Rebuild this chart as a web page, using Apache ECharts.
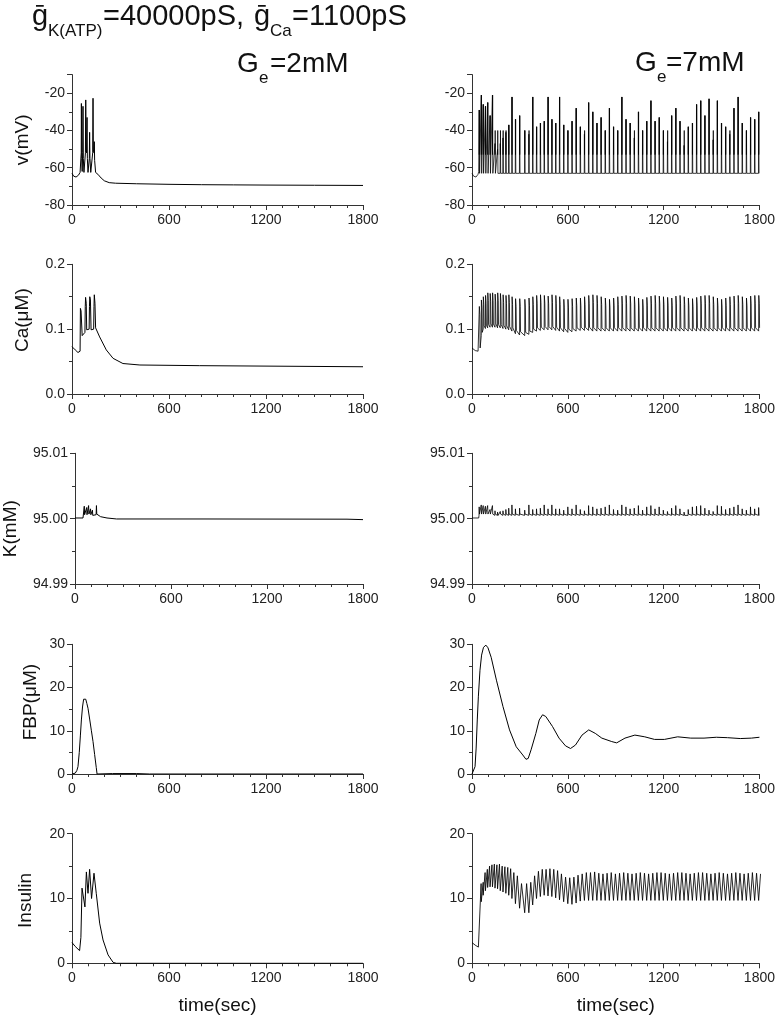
<!DOCTYPE html>
<html><head><meta charset="utf-8">
<script src="https://cdn.jsdelivr.net/npm/echarts@6.0.0/dist/echarts.min.js"></script>
<style>html,body{margin:0;padding:0;background:#fff}#c{width:778px;height:1019px}</style>
</head><body><div id="c"></div>
<script>
// ---------- data ----------
const timeTicks = [0, 600, 1200, 1800];

// G_e = 2 mM (explicit [t, value] points)
const v2 = [[0,-63],[10,-64.5],[25,-65],[40,-64],[50,-62.5],[55,-61.5],[57,-52],[58,-25.5],[60,-55],[63,-62],[66,-52],[68,-27],[70,-55],[74,-62.5],[83,-52],[85,-23.6],[87,-50],[90,-52],[93,-33],[95,-55],[99,-62.5],[107,-55],[109,-41],[111,-55],[116,-62.5],[128,-52],[130,-22.7],[132,-50],[136,-52],[138,-46],[140,-56],[146,-62.5],[160,-63.5],[180,-65.5],[200,-67],[230,-68],[270,-68.3],[400,-68.6],[600,-68.9],[800,-69.1],[1000,-69.2],[1200,-69.3],[1500,-69.4],[1800,-69.5]];
const ca2 = [[0,0.073],[20,0.068],[37,0.064],[50,0.066],[52,0.132],[56,0.128],[60,0.125],[63,0.09],[66,0.088],[80,0.095],[82,0.135],[84,0.149],[88,0.14],[91,0.099],[96,0.1],[106,0.1],[108,0.135],[110,0.15],[114,0.145],[118,0.099],[126,0.1],[134,0.1],[136,0.135],[138,0.153],[142,0.14],[146,0.102],[171,0.088],[212,0.068],[254,0.055],[315,0.047],[420,0.0447],[790,0.0437],[1800,0.042]];
const k2 = [[0,95.0001],[50,95.0001],[56,95.0004],[58,95.0019],[60,95.0006],[64,95.0004],[71,95.0006],[73,95.0017],[75,95.0006],[83,95.0006],[85,95.002],[87,95.0007],[95,95.0006],[97,95.0015],[99,95.0006],[107,95.0005],[109,95.0013],[111,95.0005],[132,95.0006],[134,95.002],[136,95.0007],[160,95.0003],[200,95.0001],[260,94.99995],[800,94.99995],[1700,94.99992],[1800,94.99985]];
const fbp2 = [[0,0],[20,0.2],[30,0.8],[37,1.7],[45,5],[52,9],[58,12.5],[65,15.5],[72,17.3],[78,17.7],[85,17.3],[92,16.3],[99,15.2],[110,12.5],[120,10],[130,7.5],[140,4.5],[150,1.5],[155,0],[250,0.1],[400,0.1],[480,0],[1800,0]];
const ins2 = [[0,3.2],[20,2.6],[47,1.95],[55,4],[62,11.6],[66,11.8],[80,8.7],[89,14.1],[99,10.8],[109,14.5],[121,10],[136,13.9],[150,10.8],[171,6.2],[192,3.6],[223,1.3],[254,0.15],[274,0],[1800,0]];

// G_e = 7 mM : burst times and per-burst values
const burst7 = [45,58,70,84,98,113,128,144,160,177,
  194,212,230,250,272,298,330,356,380,404,
  428,452,476,500,524,548,574,600,626,652,
  678,704,730,756,782,808,834,860,886,912,
  938,964,990,1016,1042,1068,1094,1120,1146,1172,
  1198,1224,1250,1276,1302,1328,1354,1380,1406,1432,
  1458,1484,1510,1536,1562,1588,1614,1640,1666,1692,
  1718,1744,1770,1795];
const v7Start = [[0,-63],[10,-64.5],[25,-65],[38,-63.5],[42,-62]];
const v7Rest = -63, v7Shoulder = -53, v7Inner = -40;
const v7Peak = [-29,-21,-26,-27,-25,-32,-21,-47,-50,-47,
  -44,-41,-37,-22,-34,-32,-40,-42,-22,-38,
  -36,-35,-22,-34,-36,-22,-37,-40,-35,-28,
  -38,-42,-25,-30,-36,-33,-40,-28,-38,-40,
  -22,-34,-36,-44,-30,-40,-35,-24,-35,-33,
  -40,-46,-32,-28,-35,-48,-38,-36,-26,-24,
  -32,-23,-45,-24,-36,-38,-42,-28,-22,-36,
  -40,-33,-34,-30];
const ca7Start = [[0,0.071],[20,0.067],[38,0.066]];
const ca7Peak = [0.135,0.145,0.15,0.152,0.156,0.155,0.156,0.154,0.156,0.155,
  0.153,0.152,0.153,0.15,0.147,0.147,0.146,0.148,0.15,0.152,
  0.153,0.152,0.151,0.153,0.152,0.15,0.146,0.146,0.147,0.148,
  0.148,0.15,0.152,0.153,0.152,0.15,0.148,0.146,0.148,0.15,
  0.151,0.152,0.151,0.15,0.148,0.146,0.149,0.151,0.152,0.151,
  0.15,0.149,0.148,0.151,0.152,0.15,0.148,0.147,0.149,0.151,
  0.152,0.152,0.15,0.148,0.146,0.148,0.15,0.151,0.152,0.15,
  0.148,0.151,0.152,0.152];
const ca7Trough = [0.066,0.09,0.1,0.101,0.102,0.103,0.103,0.103,0.102,0.102,
  0.101,0.1,0.099,0.097,0.093,0.091,0.09,0.092,0.095,0.097,
  0.098,0.099,0.099,0.099,0.098,0.097,0.096,0.095,0.096,0.097,
  0.098,0.098,0.098,0.097,0.097,0.097,0.097,0.097,0.097,0.097,
  0.097,0.097,0.097,0.097,0.097,0.097,0.097,0.097,0.097,0.097,
  0.097,0.097,0.097,0.097,0.097,0.097,0.097,0.097,0.097,0.097,
  0.097,0.097,0.097,0.097,0.097,0.097,0.097,0.097,0.097,0.097,
  0.097,0.097,0.097,0.097];
const k7Start = [[0,95.0001],[42,95.0001]];
const k7Rest = 95.0005;
const k7Peak = [95.0018,95.0021,95.002,95.0019,95.002,95.0014,95.002,95.0012,95.001,95.0011,
  95.0012,95.0014,95.0016,95.0021,95.0015,95.0016,95.0013,95.0021,95.0014,95.0015,
  95.0016,95.0021,95.0015,95.0021,95.0015,95.0015,95.0013,95.0018,95.0015,95.0021,
  95.0014,95.0012,95.002,95.0018,95.0015,95.0016,95.0018,95.0021,95.0014,95.0013,
  95.0021,95.0018,95.0015,95.0016,95.002,95.0013,95.0018,95.002,95.0015,95.0018,
  95.0013,95.0011,95.0016,95.002,95.0015,95.001,95.0014,95.0018,95.0019,95.002,
  95.0016,95.0013,95.0011,95.002,95.0019,95.0014,95.0016,95.0018,95.0021,95.0015,
  95.0013,95.0018,95.0015,95.0017];
const fbp7 = [[0,0],[12,0.3],[19,1.7],[26,6],[33,12.5],[40,18],[50,24],[60,27.5],[72,29.3],[87,29.8],[100,29.2],[120,27],[153,21.7],[194,15.6],[235,10.2],[277,6.3],[318,4.4],[338,3.4],[352,3.6],[370,5.6],[400,9.4],[421,12.5],[442,13.7],[462,13.3],[504,11],[545,8.3],[586,6.5],[617,5.9],[648,6.7],[689,9],[731,10.2],[772,9.4],[813,8.3],[875,7.5],[906,7.2],[958,8.3],[1020,9],[1082,8.6],[1143,8],[1205,8],[1288,8.6],[1370,8.3],[1453,8.3],[1530,8.5],[1600,8.4],[1680,8.2],[1750,8.3],[1800,8.5]];
const ins7Start = [[0,3.2],[20,2.8],[40,2.5]];
const ins7Trough = [2.5,9.5,10.5,11.2,11.7,11.8,11.8,11.6,11.5,11.2,
  11,10.8,10.5,10,9.2,8.5,7.8,7.8,9,10,
  10.3,10.5,10.4,10.3,10.1,9.8,9.5,9.2,9.1,9.3,
  9.6,9.7,9.7,9.7,9.7,9.7,9.7,9.7,9.7,9.7,
  9.7,9.7,9.7,9.7,9.7,9.7,9.7,9.7,9.7,9.7,
  9.7,9.7,9.7,9.7,9.7,9.7,9.7,9.7,9.7,9.7,
  9.7,9.7,9.7,9.7,9.7,9.7,9.7,9.7,9.7,9.7,
  9.7,9.7,9.7,9.7];
const ins7Peak = [12.3,12.5,14,14.5,15,15.2,15.3,15.2,15.3,15,
  14.9,14.8,14.6,14,13.5,12.3,12.3,12.5,13.5,14.2,
  14.5,14.5,14.6,14.5,14.3,13.8,13.3,13.2,13.3,13.6,
  13.8,14,14,14.1,13.9,13.8,13.9,14,13.8,13.9,
  14,13.9,13.8,13.9,14,13.9,13.8,13.9,14,14,
  13.9,13.8,13.9,14,14,13.9,13.8,13.9,14,14,
  13.9,13.8,13.9,14,13.9,13.8,13.9,14,13.9,13.8,
  13.9,14,13.9,13.8];

// ---------- build line data from the read values ----------
function buildV() {
  const d = v7Start.slice();
  burst7.forEach((t, i) => {
    const p = v7Peak[i];
    d.push([t - 1, v7Rest], [t, p], [t + 0.6, v7Shoulder], [t + 1.2, Math.max(p, v7Inner)], [t + 1.8, v7Shoulder], [t + 2.6, v7Rest]);
  });
  return d;
}
function buildCa() {
  const d = ca7Start.slice();
  burst7.forEach((t, i) => {
    d.push([t, ca7Trough[i]], [t + 1, ca7Peak[i]], [t + 4, ca7Peak[i] - 0.012], [t + 6, ca7Trough[i] + 0.005]);
  });
  return d;
}
function buildK() {
  const d = k7Start.slice();
  burst7.forEach((t, i) => {
    d.push([t - 1, k7Rest], [t, k7Peak[i]], [t + 2, k7Rest + 0.0002], [t + 4, k7Rest]);
  });
  return d;
}
function buildIns() {
  const d = ins7Start.slice();
  burst7.forEach((t, i) => {
    d.push([t, ins7Trough[i]], [t + 12, ins7Peak[i]]);
  });
  return d;
}

const FONT = '"Liberation Sans", Arial, Helvetica, sans-serif';
const rows = [
  { min: -80, max: -10, interval: 20, fmt: v => (v % 20 === 0 ? String(v) : ''), name: 'v(mV)', gap: 40, pad: [0,0,0,0], left: v2, right: buildV(), rw: 0.75 },
  { min: 0, max: 0.2, interval: 0.1, fmt: v => v.toFixed(1), name: 'Ca(\u03bcM)', gap: 40, pad: [0,0,0,18], left: ca2, right: buildCa(), rw: 0.8 },
  { min: 94.99, max: 95.01, interval: 0.01, fmt: v => v.toFixed(2), name: 'K(mM)', gap: 55, pad: [0,20,0,0], left: k2, right: buildK(), rw: 0.8 },
  { min: 0, max: 30, interval: 10, fmt: v => String(v), name: 'FBP(\u03bcM)', gap: 32, pad: [0,0,0,14], left: fbp2, right: fbp7, rw: 1 },
  { min: 0, max: 20, interval: 10, fmt: v => String(v), name: 'Insulin', gap: 37, pad: [0,4,0,0], left: ins2, right: buildIns(), rw: 0.85 }
];
const tops = [74.6, 264.3, 453.3, 644.3, 833.7];
const heights = [130.4, 129.7, 130.7, 129.7, 129.6];
const lefts = [72, 472];

const grid = [], xAxis = [], yAxis = [], series = [];
const axisColor = '#333';
rows.forEach((r, ri) => {
  [0, 1].forEach(ci => {
    const idx = grid.length;
    grid.push({ left: lefts[ci], top: tops[ri], width: 291, height: heights[ri], containLabel: false });
    xAxis.push({
      type: 'value', gridIndex: idx, min: timeTicks[0], max: timeTicks[timeTicks.length - 1], interval: 600,
      axisLine: { show: true, lineStyle: { color: axisColor, width: 1 } },
      axisTick: { show: true, inside: false, length: 5, lineStyle: { color: axisColor } },
      minorTick: { show: true, splitNumber: 6, length: 3, lineStyle: { color: axisColor } },
      splitLine: { show: false },
      axisLabel: { margin: 8, fontSize: 14, fontFamily: FONT, color: '#222', formatter: v => String(v) },
      name: ri === 4 ? 'time(sec)' : '', nameLocation: 'middle', nameGap: 33,
      nameTextStyle: { fontSize: 19, fontFamily: FONT, color: '#111' }
    });
    yAxis.push({
      type: 'value', gridIndex: idx, min: r.min, max: r.max, interval: r.interval,
      axisLine: { show: true, lineStyle: { color: axisColor, width: 1 } },
      axisTick: { show: true, inside: false, length: 5, lineStyle: { color: axisColor } },
      minorTick: { show: true, splitNumber: 2, length: 3, lineStyle: { color: axisColor } },
      splitLine: { show: false },
      axisLabel: { margin: 7, fontSize: 14, fontFamily: FONT, color: '#222', formatter: r.fmt },
      name: ci === 0 ? r.name : '', nameLocation: 'middle', nameRotate: 90, nameGap: r.gap,
      nameTextStyle: { fontSize: 19, fontFamily: FONT, color: '#111', padding: r.pad }
    });
    series.push({
      type: 'line', xAxisIndex: idx, yAxisIndex: idx, data: ci === 0 ? r.left : r.right,
      showSymbol: false, symbol: 'none', smooth: false, silent: true,
      lineStyle: { color: '#000', width: ci === 0 ? 1 : r.rw }, animation: false, clip: true
    });
  });
});

function txt(s, x, baseline, size) {
  return { type: 'text', x: x, y: baseline - 0.347 * size, silent: true,
    style: { text: s, font: size + 'px ' + FONT, fill: '#111', verticalAlign: 'middle', textVerticalAlign: 'middle', align: 'left' } };
}
const graphic = [
  txt('\u1e21', 32, 27, 29), txt('K(ATP)', 48, 37, 17), txt('=40000pS,', 103, 27, 29),
  txt('\u1e21', 254, 27, 29), txt('Ca', 270, 37, 17), txt('=1100pS', 292, 27, 29),
  txt('G', 237, 74, 28), txt('e', 259, 84, 17), txt('=2mM', 270, 74, 28),
  txt('G', 635, 73, 28), txt('e', 657, 83, 17), txt('=7mM', 666, 73, 28)
];

const chart = echarts.init(document.getElementById('c'), null, { renderer: 'canvas' });
chart.setOption({ animation: false, backgroundColor: '#fff', grid, xAxis, yAxis, series, graphic });
</script></body></html>
